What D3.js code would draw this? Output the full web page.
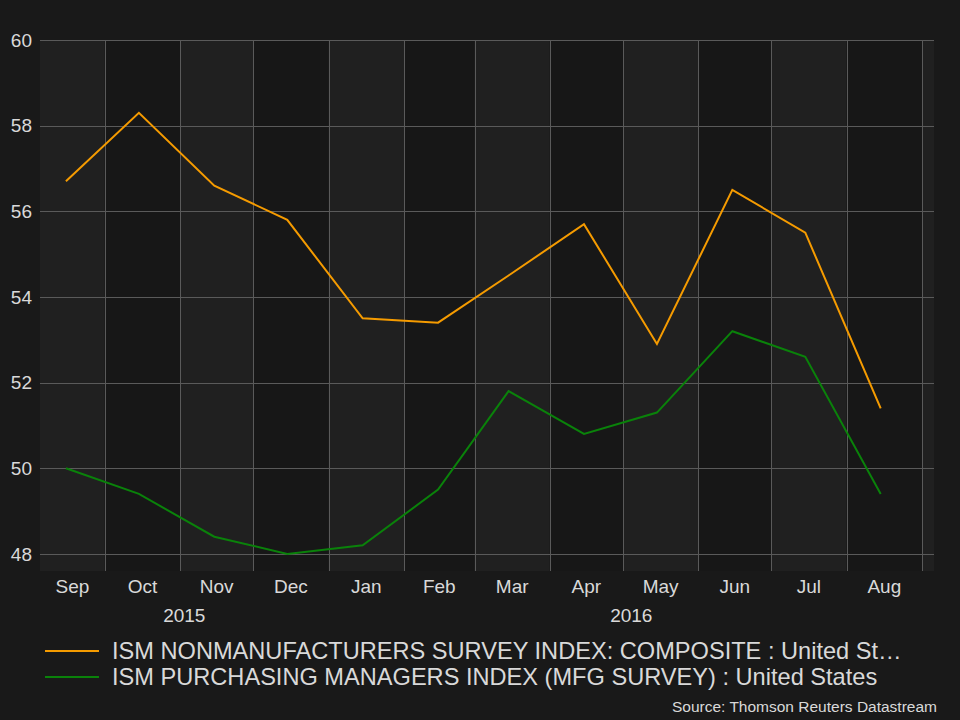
<!DOCTYPE html>
<html>
<head>
<meta charset="utf-8">
<script src="https://cdn.jsdelivr.net/npm/d3@7"></script>
<style>
  html, body { margin: 0; padding: 0; background: #191919; }
  svg { display: block; }
  text { font-family: "Liberation Sans", Arial, sans-serif; fill: #d9d9d9; }
</style>
</head>
<body>
<svg id="chart" width="960" height="720"></svg>
<script>
// ---- data ----
const months = ["2015-09-15","2015-10-15","2015-11-15","2015-12-15","2016-01-15","2016-02-15",
                "2016-03-15","2016-04-15","2016-05-15","2016-06-15","2016-07-15","2016-08-15"];
const nonManufacturing = [56.7, 58.3, 56.6, 55.8, 53.5, 53.4, 54.5, 55.7, 52.9, 56.5, 55.5, 51.4];
const manufacturing    = [50.0, 49.4, 48.4, 48.0, 48.2, 49.5, 51.8, 50.8, 51.3, 53.2, 52.6, 49.4];
const yTicks = [48, 50, 52, 54, 56, 58, 60];
const seriesNames = ["ISM NONMANUFACTURERS SURVEY INDEX: COMPOSITE : United St\u2026",
                     "ISM PURCHASING MANAGERS INDEX (MFG SURVEY) : United States"];
const seriesColors = ["#f59b00", "#0a820a"];
const sourceText = "Source: Thomson Reuters Datastream";

(function () {
// ---- layout ----
const svg = d3.select("#chart");
const pL = 40, pR = 934, pT = 40, pB = 571;
const parse = d3.timeParse("%Y-%m-%d");
const dates = months.map(parse);

const x = d3.scaleTime()
  .domain([new Date(2015, 8, 4, 8), new Date(2016, 8, 5, 22)])
  .range([pL, pR]);
const y = d3.scaleLinear().domain([47.6, 60]).range([pB, pT]);

// alternating month columns
const monthStarts = d3.timeMonth.range(d3.timeMonth.floor(x.domain()[0]), x.domain()[1]);
const g = svg.append("g");
monthStarts.forEach((m, i) => {
  const x0 = Math.max(pL, x(m));
  const x1 = Math.min(pR, x(d3.timeMonth.offset(m, 1)));
  g.append("rect")
    .attr("x", x0).attr("y", pT)
    .attr("width", x1 - x0).attr("height", pB - pT)
    .attr("fill", i % 2 === 0 ? "#202020" : "#171717");
});

// horizontal grid
g.selectAll("line.hgrid").data(yTicks).join("line")
  .attr("class", "hgrid")
  .attr("x1", pL).attr("x2", pR)
  .attr("y1", d => Math.round(y(d)) + 0.5).attr("y2", d => Math.round(y(d)) + 0.5)
  .attr("stroke", "#5a5a5a").attr("stroke-width", 1);

// vertical grid at month starts
const vTicks = monthStarts.filter(m => x(m) > pL && x(m) < pR);
g.selectAll("line.vgrid").data(vTicks).join("line")
  .attr("class", "vgrid")
  .attr("x1", d => Math.round(x(d)) + 0.5).attr("x2", d => Math.round(x(d)) + 0.5)
  .attr("y1", pT).attr("y2", pB)
  .attr("stroke", "#5a5a5a").attr("stroke-width", 1);

// y labels
svg.append("g").selectAll("text").data(yTicks).join("text")
  .attr("x", 32).attr("y", d => y(d))
  .attr("dy", "0.35em")
  .attr("text-anchor", "end")
  .attr("font-size", 19)
  .text(d => d);

// month labels centred in visible month span
const fmtM = d3.timeFormat("%b");
svg.append("g").selectAll("text")
  .data(monthStarts.filter(m => d3.timeMonth.offset(m, 1) < x.domain()[1])).join("text")
  .attr("x", d => (Math.max(pL, x(d)) + Math.min(pR, x(d3.timeMonth.offset(d, 1)))) / 2)
  .attr("y", 593)
  .attr("text-anchor", "middle")
  .attr("font-size", 19)
  .text(d => fmtM(d));

// year labels centred in visible year span
const years = [new Date(2015, 0, 1), new Date(2016, 0, 1)];
svg.append("g").selectAll("text").data(years).join("text")
  .attr("x", d => (Math.max(pL, x(d)) + Math.min(pR, x(d3.timeYear.offset(d, 1)))) / 2)
  .attr("y", 622)
  .attr("text-anchor", "middle")
  .attr("font-size", 19)
  .text(d => d.getFullYear());

// lines
const line = d3.line().x((d, i) => x(dates[i])).y(d => y(d));
[nonManufacturing, manufacturing].forEach((s, k) => {
  svg.append("path")
    .datum(s)
    .attr("d", line)
    .attr("fill", "none")
    .attr("stroke", seriesColors[k])
    .attr("stroke-width", 2)
    .attr("stroke-linejoin", "miter");
});

// legend
const lg = svg.append("g");
seriesNames.forEach((name, k) => {
  const yy = 651 + k * 26;
  lg.append("line").attr("x1", 45).attr("x2", 99).attr("y1", yy).attr("y2", yy)
    .attr("stroke", seriesColors[k]).attr("stroke-width", 2);
  lg.append("text").attr("x", 112).attr("y", yy + 7.5)
    .attr("font-size", 23.6).text(name);
});

// source
svg.append("text").attr("x", 937).attr("y", 712)
  .attr("text-anchor", "end").attr("font-size", 15.5)
  .text(sourceText);
})();
</script>
</body>
</html>
